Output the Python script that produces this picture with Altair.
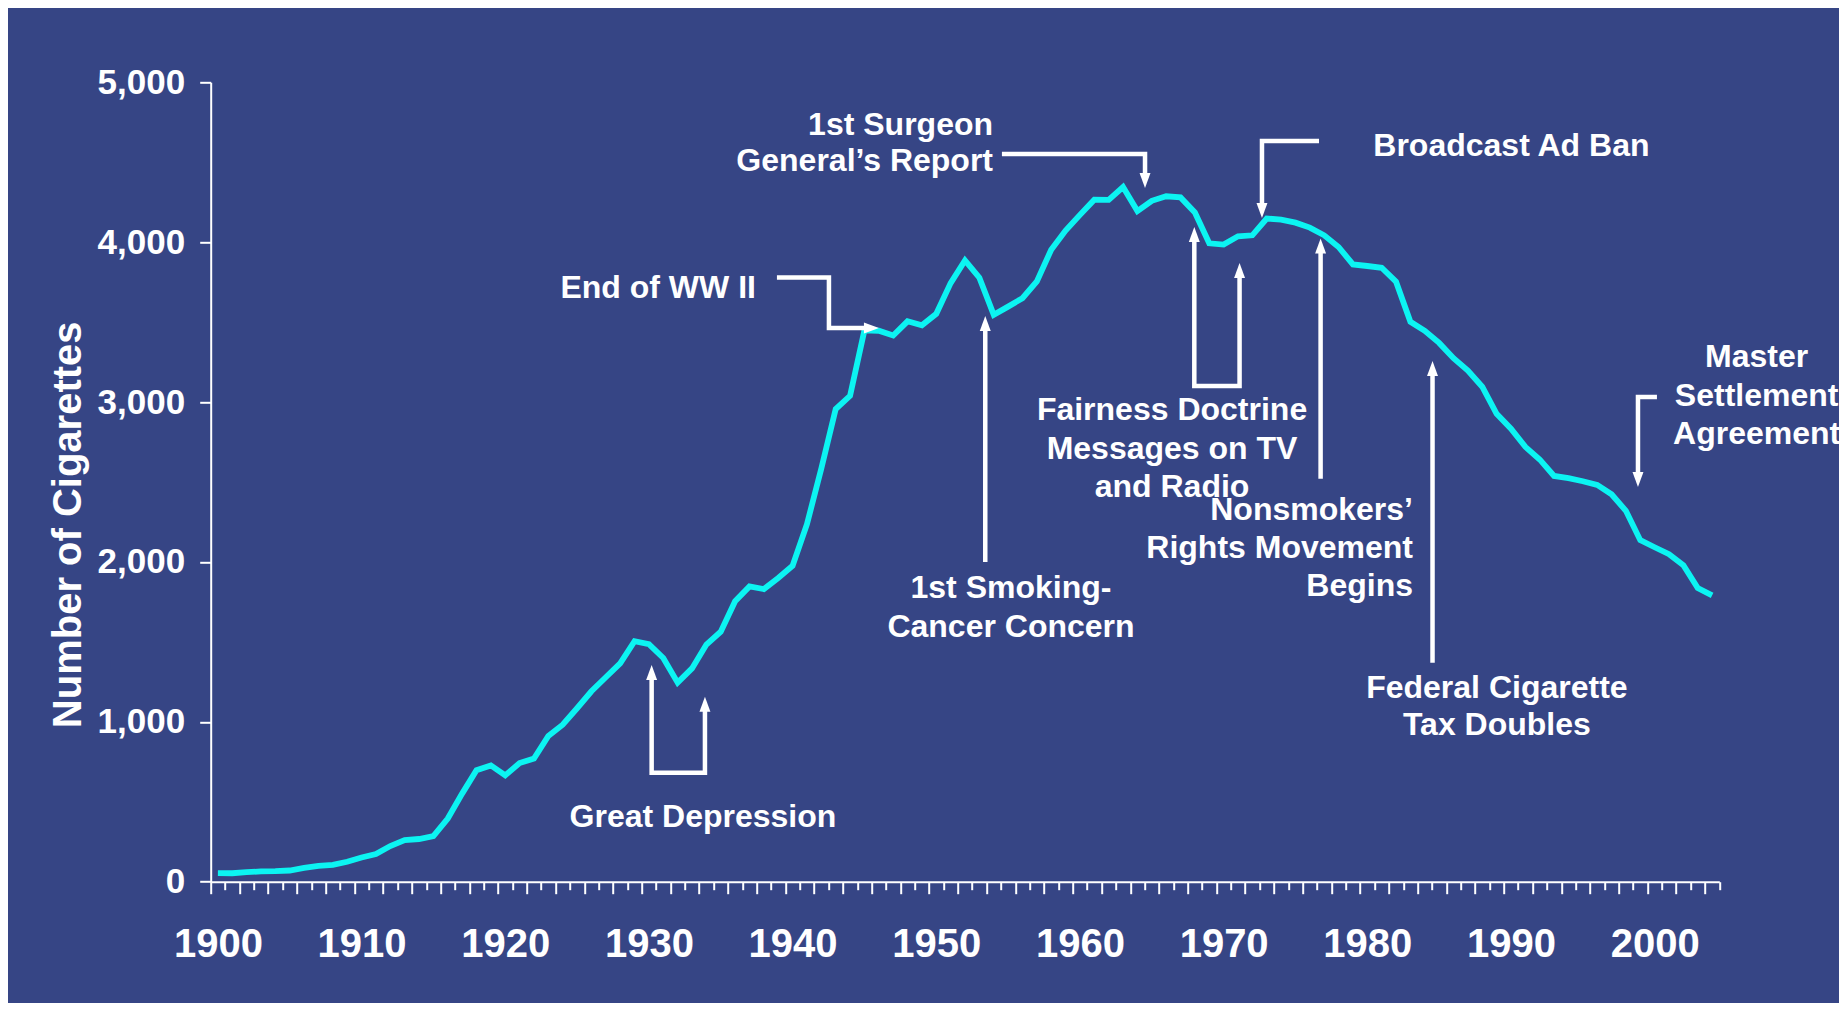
import altair as alt
import pandas as pd

FONT = "Liberation Sans"
BG = "#364585"
CYAN = "#0CF4F2"

# ---- data: adult per-capita cigarette consumption, 1900-2004 ----
years = list(range(1900, 2005))
consumption = [
    54, 53, 60, 64, 66, 70, 86, 99, 105, 125,
    151, 173, 223, 260, 267, 285, 395, 551, 697, 727,
    665, 742, 770, 911, 982, 1085, 1191, 1279, 1366, 1504,
    1485, 1399, 1245, 1334, 1483, 1564, 1754, 1847, 1830, 1900,
    1976, 2236, 2585, 2956, 3039, 3449, 3446, 3416, 3505, 3480,
    3552, 3744, 3886, 3778, 3546, 3597, 3650, 3755, 3953, 4073,
    4171, 4266, 4265, 4345, 4195, 4259, 4287, 4280, 4186, 3993,
    3985, 4037, 4043, 4148, 4141, 4122, 4091, 4043, 3970, 3861,
    3851, 3840, 3753, 3502, 3446, 3370, 3274, 3197, 3096, 2926,
    2834, 2720, 2641, 2538, 2524, 2505, 2482, 2423, 2320, 2136,
    2092, 2049, 1979, 1837, 1791,
]
y_ticks = [0, 1000, 2000, 3000, 4000, 5000]
x_tick_bounds = [1899.5 + i for i in range(106)]

# ---- annotation texts (anchor in data units: year, cigarettes) ----
right_text = ["1st Surgeon", "General\u2019s Report", "End of WW II",
              "Nonsmokers\u2019", "Rights Movement", "Begins"]
right_x = [1953.95, 1953.95, 1937.45, 1983.18, 1983.18, 1983.18]
right_y = [4670, 4445, 3651, 2262, 2026, 1790]

center_text = ["1st Smoking-", "Cancer Concern", "Great Depression",
               "Fairness Doctrine", "Messages on TV", "and Radio",
               "Federal Cigarette", "Tax Doubles",
               "Master", "Settlement", "Agreement", "Broadcast Ad Ban"]
center_x = [1955.2, 1955.2, 1933.76, 1966.41, 1966.41, 1966.41,
            1989.02, 1989.02, 2007.1, 2007.1, 2007.1, 1990.03]
center_y = [1774, 1530, 344, 2888, 2646, 2406, 1149, 918,
            3219, 2975, 2738, 4539]

# arrow polylines (vertices in data units)
arrow_paths = {
    "surgeon": [(1954.57, 4551), (1964.53, 4551), (1964.53, 4414)],
    "ww2": [(1938.91, 3779), (1942.53, 3779), (1942.53, 3463), (1945.17, 3463)],
    "smoking": [(1953.41, 2000), (1953.41, 3463)],
    "depression": [(1930.19, 1280), (1930.19, 682), (1933.90, 682), (1933.90, 1082)],
    "fairness": [(1967.96, 4020), (1967.96, 3100), (1971.11, 3100), (1971.11, 3795)],
    "broadcast": [(1976.64, 4633), (1972.67, 4633), (1972.67, 4226)],
    "nonsmokers": [(1976.75, 2521), (1976.75, 3948)],
    "tax": [(1984.54, 1370), (1984.54, 3182)],
    "master": [(2000.16, 3032), (1998.84, 3032), (1998.84, 2544)],
}
head_x = [1964.53, 1946.01, 1953.41, 1930.19, 1933.90, 1967.96, 1971.11,
          1972.67, 1976.75, 1984.54, 1998.84]
head_y = [4339, 3463, 3538, 1355, 1157, 4095, 3870, 4151, 4023, 3257, 2469]
head_rot = [180, 90, 0, 0, 0, 0, 0, 180, 0, 0, 180]

# ---- tables ----
line_df = pd.DataFrame({"year": years, "val": consumption})
rt_df = pd.DataFrame({"year": right_x, "val": right_y, "label": right_text})
ct_df = pd.DataFrame({"year": center_x, "val": center_y, "label": center_text})
rows = []
for name, pts in arrow_paths.items():
    for i, (px, py) in enumerate(pts):
        rows.append({"arrow": name, "ord": i, "year": px, "val": py})
arrow_df = pd.DataFrame(rows)
head_df = pd.DataFrame({"year": head_x, "val": head_y, "rot": head_rot})

# ---- encodings shared by all layers ----
x_axis = alt.Axis(
    values=x_tick_bounds,
    labelExpr="((datum.value + 0.5) % 10 == 0) ? format(datum.value + 0.5, 'd') : ''",
    labelOffset=7.184,
    labelFont=FONT, labelFontSize=40, labelFontWeight="bold", labelColor="white",
    labelPadding=31, labelOverlap=False, labelFlush=False,
    labelBaseline="top",
    tickColor="white", tickWidth=2,
    tickSize={"condition": {"test": "(datum.value - 1899.5) % 2 == 0", "value": 12}, "value": 8},
    domainColor="white", domainWidth=2,
    grid=False, title="",
)
y_axis = alt.Axis(
    values=y_ticks, format=",d",
    labelFont=FONT, labelFontSize=35, labelFontWeight="bold", labelColor="white",
    labelPadding=15, labelBaseline="middle",
    tickColor="white", tickWidth=2, tickSize=11,
    domainColor="white", domainWidth=2, grid=False,
    title="Number of Cigarettes", titleFont=FONT, titleFontSize=40,
    titleFontWeight="bold", titleColor="white",
    titleX=-130.7, titleY=442, titleAngle=270,
    titleBaseline="alphabetic", titleAlign="center",
)
X = alt.X("year:Q", scale=alt.Scale(domain=[1899.5, 2004.5], nice=False, zero=False), axis=x_axis)
Y = alt.Y("val:Q", scale=alt.Scale(domain=[0, 5000], nice=False), axis=y_axis)

series = alt.Chart(line_df).mark_line(color=CYAN, strokeWidth=5.8).encode(x=X, y=Y)

arrows = alt.Chart(arrow_df).mark_line(
    color="white", strokeWidth=4.5, strokeJoin="miter"
).encode(x=X, y=Y, detail="arrow:N", order=alt.Order("ord:Q"))

heads = alt.Chart(head_df).mark_point(
    shape="M0,0L0.73,2L-0.73,2Z", size=225, filled=True,
    color="white", opacity=1, strokeWidth=0,
).encode(x=X, y=Y, angle=alt.Angle("rot:Q", scale=None))

rtext = alt.Chart(rt_df).mark_text(
    align="right", baseline="alphabetic", font=FONT, fontSize=32,
    fontWeight="bold", color="white",
).encode(x=X, y=Y, text="label:N")

ctext = alt.Chart(ct_df).mark_text(
    align="center", baseline="alphabetic", font=FONT, fontSize=32,
    fontWeight="bold", color="white",
).encode(x=X, y=Y, text="label:N")

chart = alt.layer(series, arrows, heads, rtext, ctext).properties(
    width=1508.6, height=799.4,
    autosize=alt.AutoSizeParams(type="none"),
    padding={"left": 202.7, "top": 74.3, "right": 119.7, "bottom": 121.3},
).configure(background=BG).configure_view(strokeWidth=0)

chart.save("out.html", embed_options={"renderer": "svg", "actions": False})
